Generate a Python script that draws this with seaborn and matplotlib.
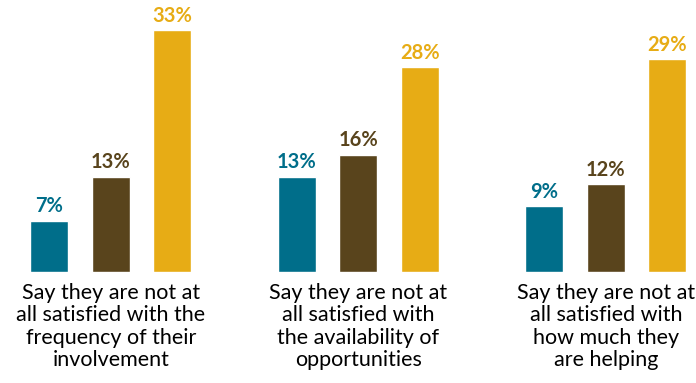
import matplotlib
matplotlib.use("Agg")
import matplotlib.pyplot as plt
import seaborn as sns
import pandas as pd

categories = [
    "Say they are not at\nall satisfied with the\nfrequency of their\ninvolvement",
    "Say they are not at\nall satisfied with\nthe availability of\nopportunities",
    "Say they are not at\nall satisfied with\nhow much they\nare helping",
]
series = ["Series A", "Series B", "Series C"]
values_a = [7, 13, 9]
values_b = [13, 16, 12]
values_c = [33, 28, 29]
colors = ["#006E8A", "#59441C", "#E7AC15"]

rows = []
for s, vals in zip(series, [values_a, values_b, values_c]):
    for c, v in zip(categories, vals):
        rows.append({"category": c, "series": s, "value": v})
df = pd.DataFrame(rows)

sns.set_theme(style="white")
plt.rcParams["font.family"] = ["Lato", "DejaVu Sans"]

fig = plt.figure(figsize=(6.96, 3.83), dpi=100)
ax = fig.add_axes([0, 0.29, 1, 0.71])

sns.barplot(data=df, x="category", y="value", hue="series",
            palette=colors, width=0.745, gap=0.38, legend=False, ax=ax,
            saturation=1)

for container, col in zip(ax.containers, colors):
    ax.bar_label(container, labels=[f"{int(v)}%" for v in container.datavalues],
                 color=col, fontsize=14.5, fontweight="bold", padding=3)

ax.set_xlim(-0.448, 2.364)
ax.set_ylim(0, 37.1)
ax.set_xlabel("")
ax.set_ylabel("")
ax.set_yticks([])
ax.tick_params(axis="x", length=0, pad=8, labelsize=15.5, colors="black")
for lbl in ax.get_xticklabels():
    lbl.set_linespacing(1.15)
for sp in ax.spines.values():
    sp.set_visible(False)

fig.savefig("out.png", dpi=100, facecolor="white")
